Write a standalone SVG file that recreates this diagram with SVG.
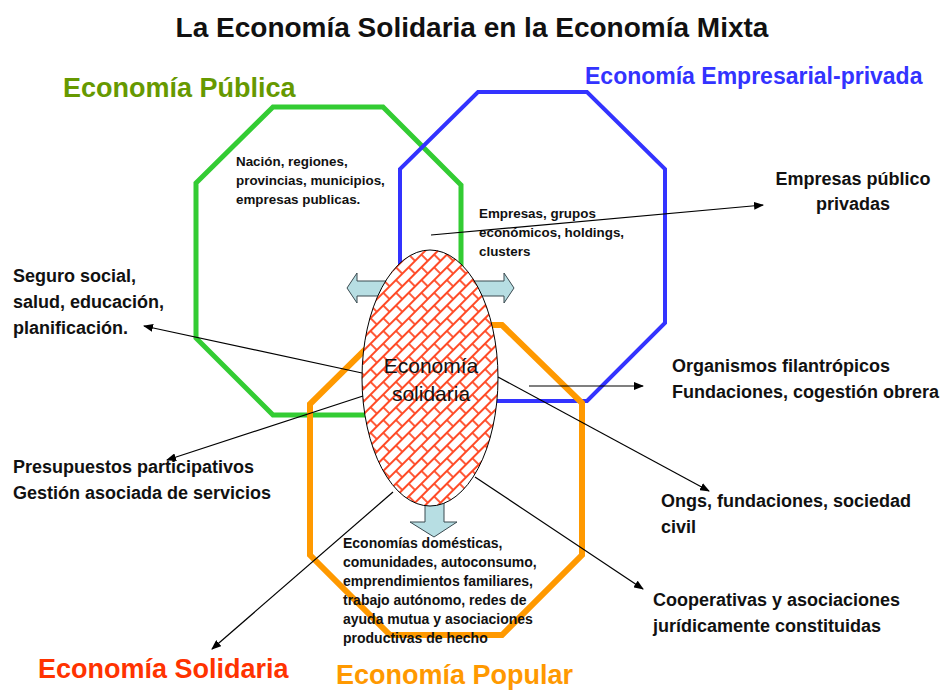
<svg xmlns="http://www.w3.org/2000/svg" width="943" height="690" viewBox="0 0 943 690">
<style>
text{font-family:"Liberation Sans",Arial,sans-serif;font-weight:bold;fill:#111}
.lbl{font-size:18px}
.sm{font-size:13.4px}
.sm2{font-size:14px}
.big{font-size:27px}
.oct{fill:none;stroke-linejoin:miter}
.con{stroke:#000;stroke-width:1.2;fill:none;marker-end:url(#ah)}
.blk{fill:#b7dee3;stroke:#3a4a50;stroke-width:1}
</style>
<defs>
<marker id="ah" markerWidth="10" markerHeight="8" refX="9" refY="4" orient="auto" markerUnits="userSpaceOnUse">
<path d="M0,0 L10,4 L0,8 z" fill="#000"/>
</marker>
<pattern id="brick" width="18" height="18" patternUnits="userSpaceOnUse" patternTransform="rotate(-45)">
<rect width="18" height="18" fill="#fff"/>
<path d="M0 1H18 M0 10H18 M1 1V10 M10 10V19" stroke="#ff4a26" stroke-width="1.8" fill="none"/>
</pattern>
</defs>
<rect width="943" height="690" fill="#fff"/>
<text x="472" y="37" text-anchor="middle" style="font-size:28px">La Economía Solidaria en la Economía Mixta</text>

<g id="economia-publica">
<polygon class="oct" points="273,107 383,107 461,185 461,338 383,415 273,415 196,338 196,183" stroke="#33cc33" stroke-width="5"/>
<text class="big" x="63" y="97" style="fill:#669900">Economía Pública</text>
<text class="sm"><tspan x="236" y="166">Nación, regiones,</tspan><tspan x="236" y="185">provincias, municipios,</tspan><tspan x="236" y="204">empresas publicas.</tspan></text>
</g>
<g id="economia-empresarial">
<polygon class="oct" points="478,92 587,92 665,169 665,323 587,401 478,401 400,323 400,169" stroke="#3333ff" stroke-width="4"/>
<text x="585" y="84" style="font-size:23px;fill:#3333ff">Economía Empresarial-privada</text>
<text class="sm"><tspan x="479" y="218">Empresas, grupos</tspan><tspan x="479" y="237">económicos, holdings,</tspan><tspan x="479" y="256">clusters</tspan></text>
</g>
<g id="economia-popular">
<polygon class="oct" points="390,325 502,325 582,403 582,555 502,635 390,635 310,555 310,404" stroke="#ff9900" stroke-width="6"/>
<text class="big" x="336" y="684" style="fill:#ff9900">Economía Popular</text>
<text class="sm2"><tspan x="343" y="548">Economías domésticas,</tspan><tspan x="343" y="567">comunidades, autoconsumo,</tspan><tspan x="343" y="586">emprendimientos familiares,</tspan><tspan x="343" y="605">trabajo autónomo, redes de</tspan><tspan x="343" y="624">ayuda mutua y asociaciones</tspan><tspan x="343" y="643">productivas de hecho</tspan></text>
</g>
<g id="economia-solidaria">
<polygon class="blk" points="347,288 357,273 357,281 400,281 400,296 357,296 357,303"/>
<polygon class="blk" points="514,288 504,273 504,281 460,281 460,296 504,296 504,303"/>
<polygon class="blk" points="425,480 444,480 444,522 457,522 434,537 410,522 425,522"/>
<ellipse cx="430" cy="378" rx="68" ry="128" fill="url(#brick)" stroke="#000" stroke-width="1"/>
<text text-anchor="middle" style="font-weight:normal;font-size:21px"><tspan x="431" y="373">Economía</tspan><tspan x="431" y="401">solidaria</tspan></text>
<text class="big" x="38" y="678" style="fill:#ff3300">Economía Solidaria</text>
</g>
<g id="labels">
<text class="lbl" text-anchor="middle"><tspan x="853" y="185">Empresas público</tspan><tspan x="853" y="210">privadas</tspan></text>
<text class="lbl"><tspan x="13" y="282">Seguro social,</tspan><tspan x="13" y="308">salud, educación,</tspan><tspan x="13" y="334">planificación.</tspan></text>
<text class="lbl"><tspan x="672" y="372">Organismos filantrópicos</tspan><tspan x="672" y="398">Fundaciones, cogestión obrera</tspan></text>
<text class="lbl"><tspan x="13" y="473">Presupuestos participativos</tspan><tspan x="13" y="499">Gestión asociada de servicios</tspan></text>
<text class="lbl"><tspan x="661" y="507">Ongs, fundaciones, sociedad</tspan><tspan x="661" y="533">civil</tspan></text>
<text class="lbl"><tspan x="653" y="606">Cooperativas y asociaciones</tspan><tspan x="653" y="632">jurídicamente constituidas</tspan></text>
</g>
<g id="connectors">
<line class="con" x1="431" y1="235" x2="763" y2="205"/>
<line class="con" x1="362" y1="373" x2="144" y2="326"/>
<line class="con" x1="363" y1="396" x2="167" y2="460"/>
<line class="con" x1="529" y1="386" x2="643" y2="386"/>
<line class="con" x1="498" y1="377" x2="709" y2="491"/>
<line class="con" x1="475" y1="477" x2="643" y2="589"/>
<line class="con" x1="393" y1="492" x2="212" y2="649"/>
</g>
</svg>
